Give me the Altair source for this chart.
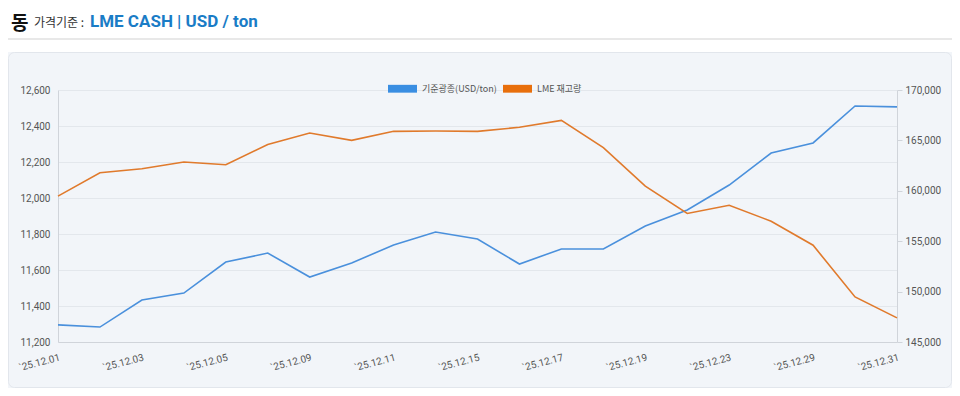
import altair as alt
import pandas as pd

# ---- data ----
dates = ["`25.12.01", "`25.12.02", "`25.12.03", "`25.12.04", "`25.12.05",
         "`25.12.08", "`25.12.09", "`25.12.10", "`25.12.11", "`25.12.12",
         "`25.12.15", "`25.12.16", "`25.12.17", "`25.12.18", "`25.12.19",
         "`25.12.22", "`25.12.23", "`25.12.24", "`25.12.29", "`25.12.30",
         "`25.12.31"]
price = [11295, 11283, 11433, 11472, 11644, 11694, 11561, 11639, 11739, 11811,
         11772, 11633, 11717, 11717, 11844, 11933, 12072, 12250, 12306, 12511, 12506]
stock = [159470, 161790, 162190, 162850, 162590, 164600, 165730, 165000, 165900, 165930,
         165900, 166300, 166990, 164280, 160460, 157750, 158570, 156980, 154600, 149470, 147390]
series_names = ["기준광종(USD/ton)", "LME 재고량"]
series_colors = ["#3a8ee2", "#e86f0c"]
line_colors = ["#4a90dc", "#e07a2c"]
left_ticks = [11200, 11400, 11600, 11800, 12000, 12200, 12400, 12600]
right_ticks = [145000, 150000, 155000, 160000, 165000, 170000]
title_main = "동"
title_sub = "가격기준 : "
title_unit = "LME CASH | USD / ton"

W, H = 839, 252
FONT = "Roboto, 'Noto Sans CJK KR', sans-serif"
KFONT = "'Noto Sans CJK KR', sans-serif"
PANEL = "#f2f5f9"

df_p = pd.DataFrame({"date": dates, "value": price})
df_s = pd.DataFrame({"date": dates, "value": stock})
df_leg = pd.DataFrame({"series": series_names})
one = pd.DataFrame({"a": [0]})

legend_layer = alt.Chart(df_leg).mark_square(filled=True, opacity=1).encode(
    color=alt.Color(
        "series:N",
        scale=alt.Scale(domain=series_names, range=series_colors),
        legend=alt.Legend(
            title=None, orient="none", direction="horizontal",
            legendX=330, legendY=-16,
            symbolType="M-1,-0.27H1V0.27H-1Z", symbolSize=841,
            symbolStrokeWidth=0, symbolOpacity=1, labelFontSize=9, labelColor="#555",
            labelFont=KFONT, labelOffset=5, columnPadding=6,
        ),
    )
).transform_filter("false")

x_axis = alt.Axis(values=dates[::2], labelAngle=-15, labelAlign="right",
                  labelBaseline="top", labelPadding=10, ticks=False,
                  domainColor="#d0d4da", labelColor="#555", labelFontSize=10,
                  labelFont=FONT, title=None, grid=False)
x_enc = alt.X("date:O", sort=None, scale=alt.Scale(type="point", padding=0), axis=x_axis)

# white header band above the grey panel (chart background is the panel colour)
header_bg = alt.Chart(one).mark_rect(fill="white").encode(
    x=alt.value(-50), x2=alt.value(894), y=alt.value(-82), y2=alt.value(-38))

panel_border = alt.Chart(one).mark_rect(fill="white", fillOpacity=0, stroke="#e2e6ec",
                                        strokeWidth=1, cornerRadius=6).encode(
    x=alt.value(-49.5), x2=alt.value(893.5), y=alt.value(-37.5), y2=alt.value(297.5))

divider = alt.Chart(one).mark_rule(color="#e8e8e8", strokeWidth=2).encode(
    x=alt.value(-50), x2=alt.value(894), y=alt.value(-51))

t1 = alt.Chart(pd.DataFrame({"t": [title_main]})).mark_text(
    align="left", baseline="alphabetic", fontSize=19, fontWeight="bold",
    font=KFONT, color="#111").encode(text="t:N", x=alt.value(-47), y=alt.value(-60))
t2 = alt.Chart(pd.DataFrame({"t": [title_sub]})).mark_text(
    align="left", baseline="alphabetic", fontSize=12, font=KFONT,
    color="#333").encode(text="t:N", x=alt.value(-24), y=alt.value(-63))
t3 = alt.Chart(pd.DataFrame({"t": [title_unit]})).mark_text(
    align="left", baseline="alphabetic", fontSize=17, fontWeight="bold",
    font=FONT, color="#1a7cc6").encode(text="t:N", x=alt.value(32), y=alt.value(-63))

left_scale = alt.Scale(domain=[11200, 12600], nice=False, zero=False)
right_scale = alt.Scale(domain=[145000, 170000], nice=False, zero=False)

left_axis = alt.Axis(orient="left", values=left_ticks, format=",.0f", ticks=False,
                     grid=True, gridColor="#e3e7ec", domainColor="#d0d4da",
                     labelColor="#555",
                     labelFontSize=10, labelFont=FONT, labelPadding=8, title=None)

blue = alt.Chart(df_p).mark_line(strokeWidth=1.6, color=line_colors[0]).encode(
    x=x_enc,
    y=alt.Y("value:Q", scale=left_scale, axis=left_axis),
)

orange = alt.Chart(df_s).mark_line(strokeWidth=1.6, color=line_colors[1]).encode(
    x=x_enc,
    y=alt.Y("value:Q", scale=right_scale,
            axis=alt.Axis(orient="right", values=right_ticks, format=",.0f", ticks=True,
                          tickSize=5, tickColor="#d0d4da", grid=False,
                          domainColor="#d0d4da", labelColor="#555", labelFontSize=10,
                          labelFont=FONT, labelPadding=3, title=None)),
)

chart = alt.layer(header_bg, panel_border, divider, t1, t2, t3, legend_layer,
                  blue, orange).resolve_scale(
    y="independent"
).properties(
    width=W, height=H,
    autosize=alt.AutoSizeParams(type="none"),
    padding={"left": 50, "top": 82, "right": 55, "bottom": 46},
    background=PANEL,
).configure_view(stroke=None)

chart.save("out.html", embed_options={"renderer": "svg", "actions": False})
